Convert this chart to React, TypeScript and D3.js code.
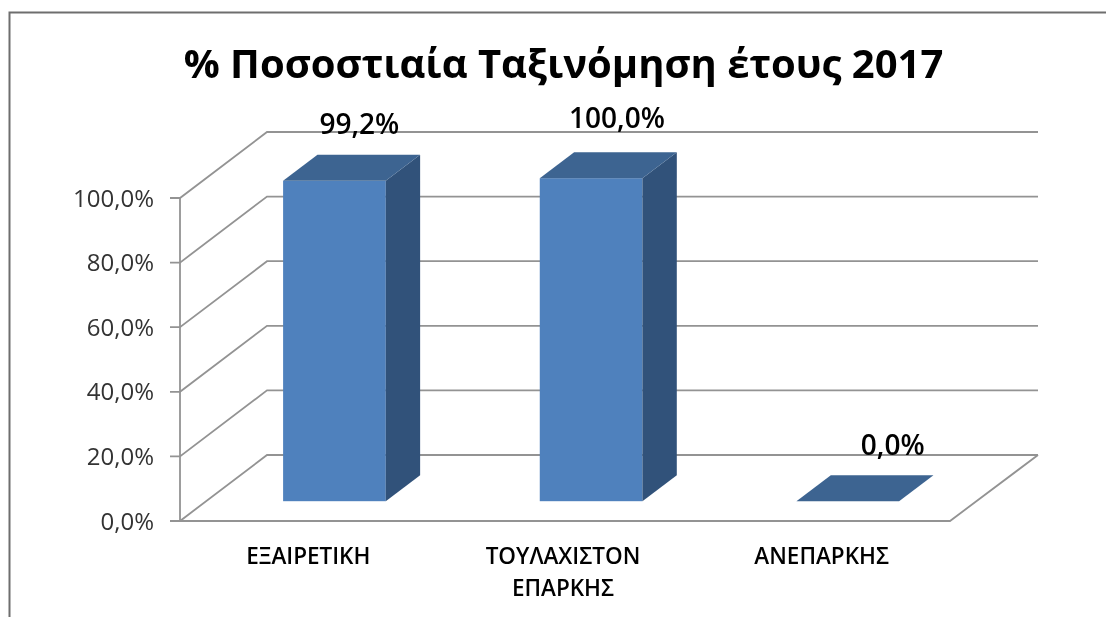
import React from "react";
import * as d3 from "d3";

const categories = [["ΕΞΑΙΡΕΤΙΚΗ"], ["ΤΟΥΛΑΧΙΣΤΟΝ", "ΕΠΑΡΚΗΣ"], ["ΑΝΕΠΑΡΚΗΣ"]];
const values = [99.2, 100, 0];
const valueLabels = ["99,2%", "100,0%", "0,0%"];
const ticks = [0, 20, 40, 60, 80, 100];
const tickLabels = ["0,0%", "20,0%", "40,0%", "60,0%", "80,0%", "100,0%"];
const title = "% Ποσοστιαία Ταξινόμηση έτους 2017";

const font = "'Open Sans', 'Noto Sans', sans-serif";
const depthX = 87;
const depthY = 66;

export default function App() {
  const y = d3.scaleLinear().domain([0, 100]).range([521, 198]);
  const x = d3.scaleBand<number>().domain([0, 1, 2]).range([180, 950]);
  const line = d3.line();
  const barW = x.bandwidth() * 0.4;
  const off = (t: number): [number, number] => [depthX * t, -depthY * t];
  const [fx, fy] = off(0.3);
  const [bx, by] = off(0.695);
  const grid = "#939393";
  return (
    <svg width={1106} height={617} style={{ position: "absolute", left: 0, top: 0, background: "#fff" }}>
      <defs>
        <filter id="soft" filterUnits="userSpaceOnUse" x={0} y={0} width={1106} height={617} colorInterpolationFilters="sRGB">
          <feGaussianBlur stdDeviation="0.7" />
        </filter>
      </defs>
      <g filter="url(#soft)">
        <path d="M9.5,617V12.5H1106" fill="none" stroke="#6e6e6e" strokeWidth={2} />
        {ticks.map((t) => (
          <path
            key={t}
            d={
              line([
                [170, y(t)],
                [180, y(t)],
                [180 + depthX, y(t) - depthY],
                [1038, y(t) - depthY],
              ]) as string
            }
            fill="none"
            stroke={grid}
            strokeWidth={1.8}
          />
        ))}
        <path d={line([[180, y(100)], [180, y(0)], [950, y(0)], [1038, y(0) - depthY]]) as string} fill="none" stroke={grid} strokeWidth={1.8} />
        {values.map((v, i) => {
          const x0 = (x(i) as number) + (x.bandwidth() - barW) / 2 + fx;
          const x1 = x0 + barW;
          const yb = y(0) + fy;
          const yt = y(v) + fy;
          const up = by - fy;
          const side = bx - fx;
          return (
            <g key={i}>
              {v > 0 && (
                <rect x={x0} y={yt} width={barW} height={yb - yt} fill="#4f81bd" />
              )}
              {v > 0 && (
                <path
                  d={(line([[x1, yt], [x1 + side, yt + up], [x1 + side, yb + up], [x1, yb]]) as string) + "Z"}
                  fill="#31527a"
                />
              )}
              <path
                d={(line([[x0, yt], [x0 + side, yt + up], [x1 + side, yt + up], [x1, yt]]) as string) + "Z"}
                fill="#3d6491"
              />
            </g>
          );
        })}
        {ticks.map((t, i) => (
          <text key={t} x={154} y={y(t)} dy="0.36em" textAnchor="end" fontFamily={font} fontSize={24} fill="#333">
            {tickLabels[i]}
          </text>
        ))}
        {values.map((v, i) => (
          <text
            key={i}
            x={(x(i) as number) + x.bandwidth() / 2 + [51, 52, 71][i]}
            y={[124, 118, 445][i]}
            dy="0.36em"
            textAnchor="middle"
            fontFamily={font}
            fontSize={28}
            fontWeight={600}
            fill="#000"
          >
            {valueLabels[i]}
          </text>
        ))}
        {categories.map((lines, i) =>
          lines.map((l, j) => (
            <text
              key={l}
              x={(x(i) as number) + x.bandwidth() / 2 + (i === 1 ? -2 : 0)}
              y={556 + j * 32}
              dy="0.36em"
              textAnchor="middle"
              fontFamily={font}
              fontSize={22.5}
              fontWeight={600}
              fill="#000"
            >
              {l}
            </text>
          ))
        )}
        <text x={563.5} y={64} dy="0.36em" textAnchor="middle" fontFamily={font} fontSize={40} fontWeight={700} fill="#000">
          {title}
        </text>
      </g>
    </svg>
  );
}
